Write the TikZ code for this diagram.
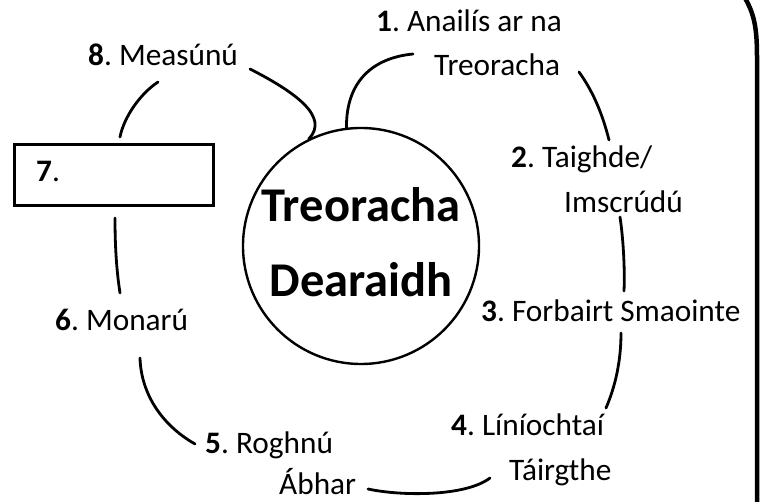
\documentclass[tikz,border=0pt]{standalone}
\usepackage{fontspec}
\setmainfont{Carlito}
\frenchspacing
\begin{document}
\begin{tikzpicture}[x=1pt,y=1pt,
  lbl/.style={anchor=base west,inner sep=0pt,font=\fontsize{31.3}{37}\selectfont},
  conn/.style={line width=2.8pt,line cap=round},
  hub/.style={circle,draw,line width=2.4pt,minimum size=236pt,inner sep=0pt},
  stepbox/.style={draw,line width=3pt,minimum width=199pt,minimum height=61pt,inner sep=0pt,anchor=north west},
  title/.style={anchor=base,inner sep=0pt,font=\fontsize{48.5}{58}\selectfont\bfseries}]
\useasboundingbox (0,0) rectangle (762,502);
% hub
\node[hub] (c) at (361,256) {};
\node[title] (t1) at (361,280) {Treoracha};
\node[title] (t2) at (361,205) {Dearaidh};
% box 7
\node[stepbox] (b7) at (13,359) {};
\node[lbl] (n7) at (36,320) {\textbf{7}.};
% labels
\node[lbl] (n1a) at (376,470) {\textbf{1}. Anailís ar na};
\node[lbl] (n1b) at (434,426) {Treoracha};
\node[lbl] (n2a) at (511,334) {\textbf{2}. Taighde/};
\node[lbl] (n2b) at (564,289) {Imscrúdú};
\node[lbl] (n3) at (481,180) {\textbf{3}. Forbairt Smaointe};
\node[lbl] (n4a) at (451,66) {\textbf{4}. Líníochtaí};
\node[lbl] (n4b) at (509,21) {Táirgthe};
\node[lbl] (n5a) at (205,48) {\textbf{5}. Roghnú};
\node[lbl] (n5b) at (279,7) {Ábhar};
\node[lbl] (n6) at (55,171) {\textbf{6}. Monarú};
\node[lbl] (n8) at (88,436) {\textbf{8}. Measúnú};
% connector ends
\coordinate (a1) at (250,433);
\coordinate (b2) at (413,448);
\coordinate (c1) at (579,430);
\coordinate (c2) at (609,362);
\coordinate (d1) at (620,285);
\coordinate (d2) at (624,211);
\coordinate (e1) at (621,169);
\coordinate (e2) at (606,94);
\coordinate (f1) at (490,24);
\coordinate (f2) at (368,13);
\coordinate (g1) at (140,144);
\coordinate (g2) at (195,58);
\coordinate (h1) at (115,284);
\coordinate (h2) at (120,209);
\coordinate (i1) at (158,420);
\coordinate (i2) at (120,365);
% connectors
\draw[conn] (a1) .. controls (295,410) and (330,385) .. (c.116);
\draw[conn] (c.97) .. controls (346,420) and (372,444) .. (b2);
\draw[conn] (c1) .. controls (592,412) and (602,390) .. (c2);
\draw[conn] (d1) .. controls (623,265) and (625,235) .. (d2);
\draw[conn] (e1) .. controls (621,140) and (615,115) .. (e2);
\draw[conn] (f1) .. controls (465,5) and (400,6) .. (f2);
\draw[conn] (g1) .. controls (141,110) and (160,78) .. (g2);
\draw[conn] (h1) .. controls (115,260) and (116,235) .. (h2);
\draw[conn] (i1) .. controls (140,408) and (124,385) .. (i2);
% frame edge
\coordinate (fr1) at (745,504);
\coordinate (fr2) at (757,-4);
\draw[line width=4.5pt] (fr1) .. controls (754,488) and (757,475) .. (757,445) -- (fr2);
\end{tikzpicture}
\end{document}
